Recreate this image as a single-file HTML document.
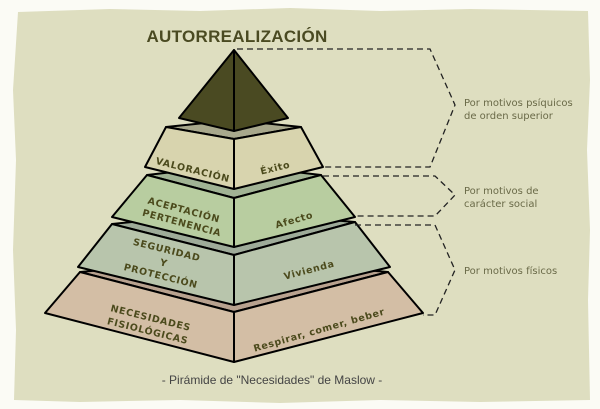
<!DOCTYPE html>
<html><head><meta charset="utf-8"><style>
html,body{margin:0;padding:0;background:#fbfbf5;}
svg{display:block}
.l{font-family:"DejaVu Sans","Liberation Sans",sans-serif;font-weight:bold;font-size:9.5px;fill:#4b4a1c;letter-spacing:0.7px}
.r{font-family:"DejaVu Sans","Liberation Sans",sans-serif;font-size:10px;fill:#6a6a48}
</style></head><body>
<svg width="600" height="409" viewBox="0 0 600 409" xmlns="http://www.w3.org/2000/svg">
<path d="M18 12 L110 9 L200 11 L290 8 L380 11 L470 9 L588 11 L590 80 L587 150 L590 230 L588 300 L590 400 L480 402 L380 400 L280 403 L180 400 L80 402 L14 400 L16 330 L13 250 L16 160 L13 90 Z" fill="#dedec0"/>
<text x="237" y="42" text-anchor="middle" font-family="Liberation Sans, sans-serif" font-weight="bold" font-size="17" fill="#4a4a22" letter-spacing="0.3">AUTORREALIZACIÓN</text>
<g stroke="#000" stroke-width="2" stroke-linejoin="round">
<polygon points="80,272 234,258 388,272 234,312" fill="#b8a28f"/>
<polygon points="80,272 234,312 234,362 45,313" fill="#d3bea5"/>
<polygon points="234,312 388,272 423,313 234,362" fill="#d3bea5"/>
<polygon points="112,224 234,212 355,222 234,255" fill="#9eab99"/>
<polygon points="112,224 234,255 234,305 78,267" fill="#b8c5ac"/>
<polygon points="234,255 355,222 390,267 234,305" fill="#b8c5ac"/>
<polygon points="147,175 234,165 321,175 234,198" fill="#a1b394"/>
<polygon points="147,175 234,198 234,247 112,217" fill="#b8cda0"/>
<polygon points="234,198 321,175 355,217 234,247" fill="#b8cda0"/>
<polygon points="166,127 234,120 301,127 234,139" fill="#a8a88c"/>
<polygon points="166,127 234,139 234,189 145,167" fill="#d8d4ae"/>
<polygon points="234,139 301,127 323,167 234,189" fill="#d8d4ae"/>
<polygon points="234,50 179,118 234,131" fill="#4a4a22"/>
<polygon points="234,50 288,118 234,131" fill="#4a4a22"/>
</g>
<g fill="none" stroke="#222" stroke-width="1.3" stroke-dasharray="6,4">
<polyline points="237,49 430,49 455,105 430,167 323,167"/>
<polyline points="323,176 435,176 455,195 435,216 355,216"/>
<polyline points="355,225 435,225 455,270 435,315 423,315"/>
</g>
<text class="r" x="464" y="106">Por motivos psíquicos</text>
<text class="r" x="464" y="119">de orden superior</text>
<text class="r" x="464" y="194">Por motivos de</text>
<text class="r" x="464" y="207">carácter social</text>
<text class="r" x="464" y="274">Por motivos físicos</text>
<g class="l" text-anchor="middle">
<text transform="translate(192,173) rotate(14)">VALORACIÓN</text>
<text transform="translate(276,171) rotate(-14)">Éxito</text>
<text transform="translate(183,213) rotate(15)">ACEPTACIÓN</text>
<text transform="translate(181,226) rotate(15)">PERTENENCIA</text>
<text transform="translate(295,223) rotate(-16)">Afecto</text>
<text transform="translate(166,253) rotate(14)">SEGURIDAD</text>
<text transform="translate(163,266) rotate(14)">Y</text>
<text transform="translate(160,279) rotate(14)">PROTECCIÓN</text>
<text transform="translate(310,273) rotate(-15)">Vivienda</text>
<text transform="translate(150,321) rotate(14)">NECESIDADES</text>
<text transform="translate(147,334) rotate(14)">FISIOLÓGICAS</text>
<text transform="translate(320,333) rotate(-16)">Respirar, comer, beber</text>
</g>
<text x="272" y="384" text-anchor="middle" font-family="Liberation Sans, sans-serif" font-size="12" fill="#444">- Pirámide de "Necesidades" de Maslow -</text>
</svg>
</body></html>
